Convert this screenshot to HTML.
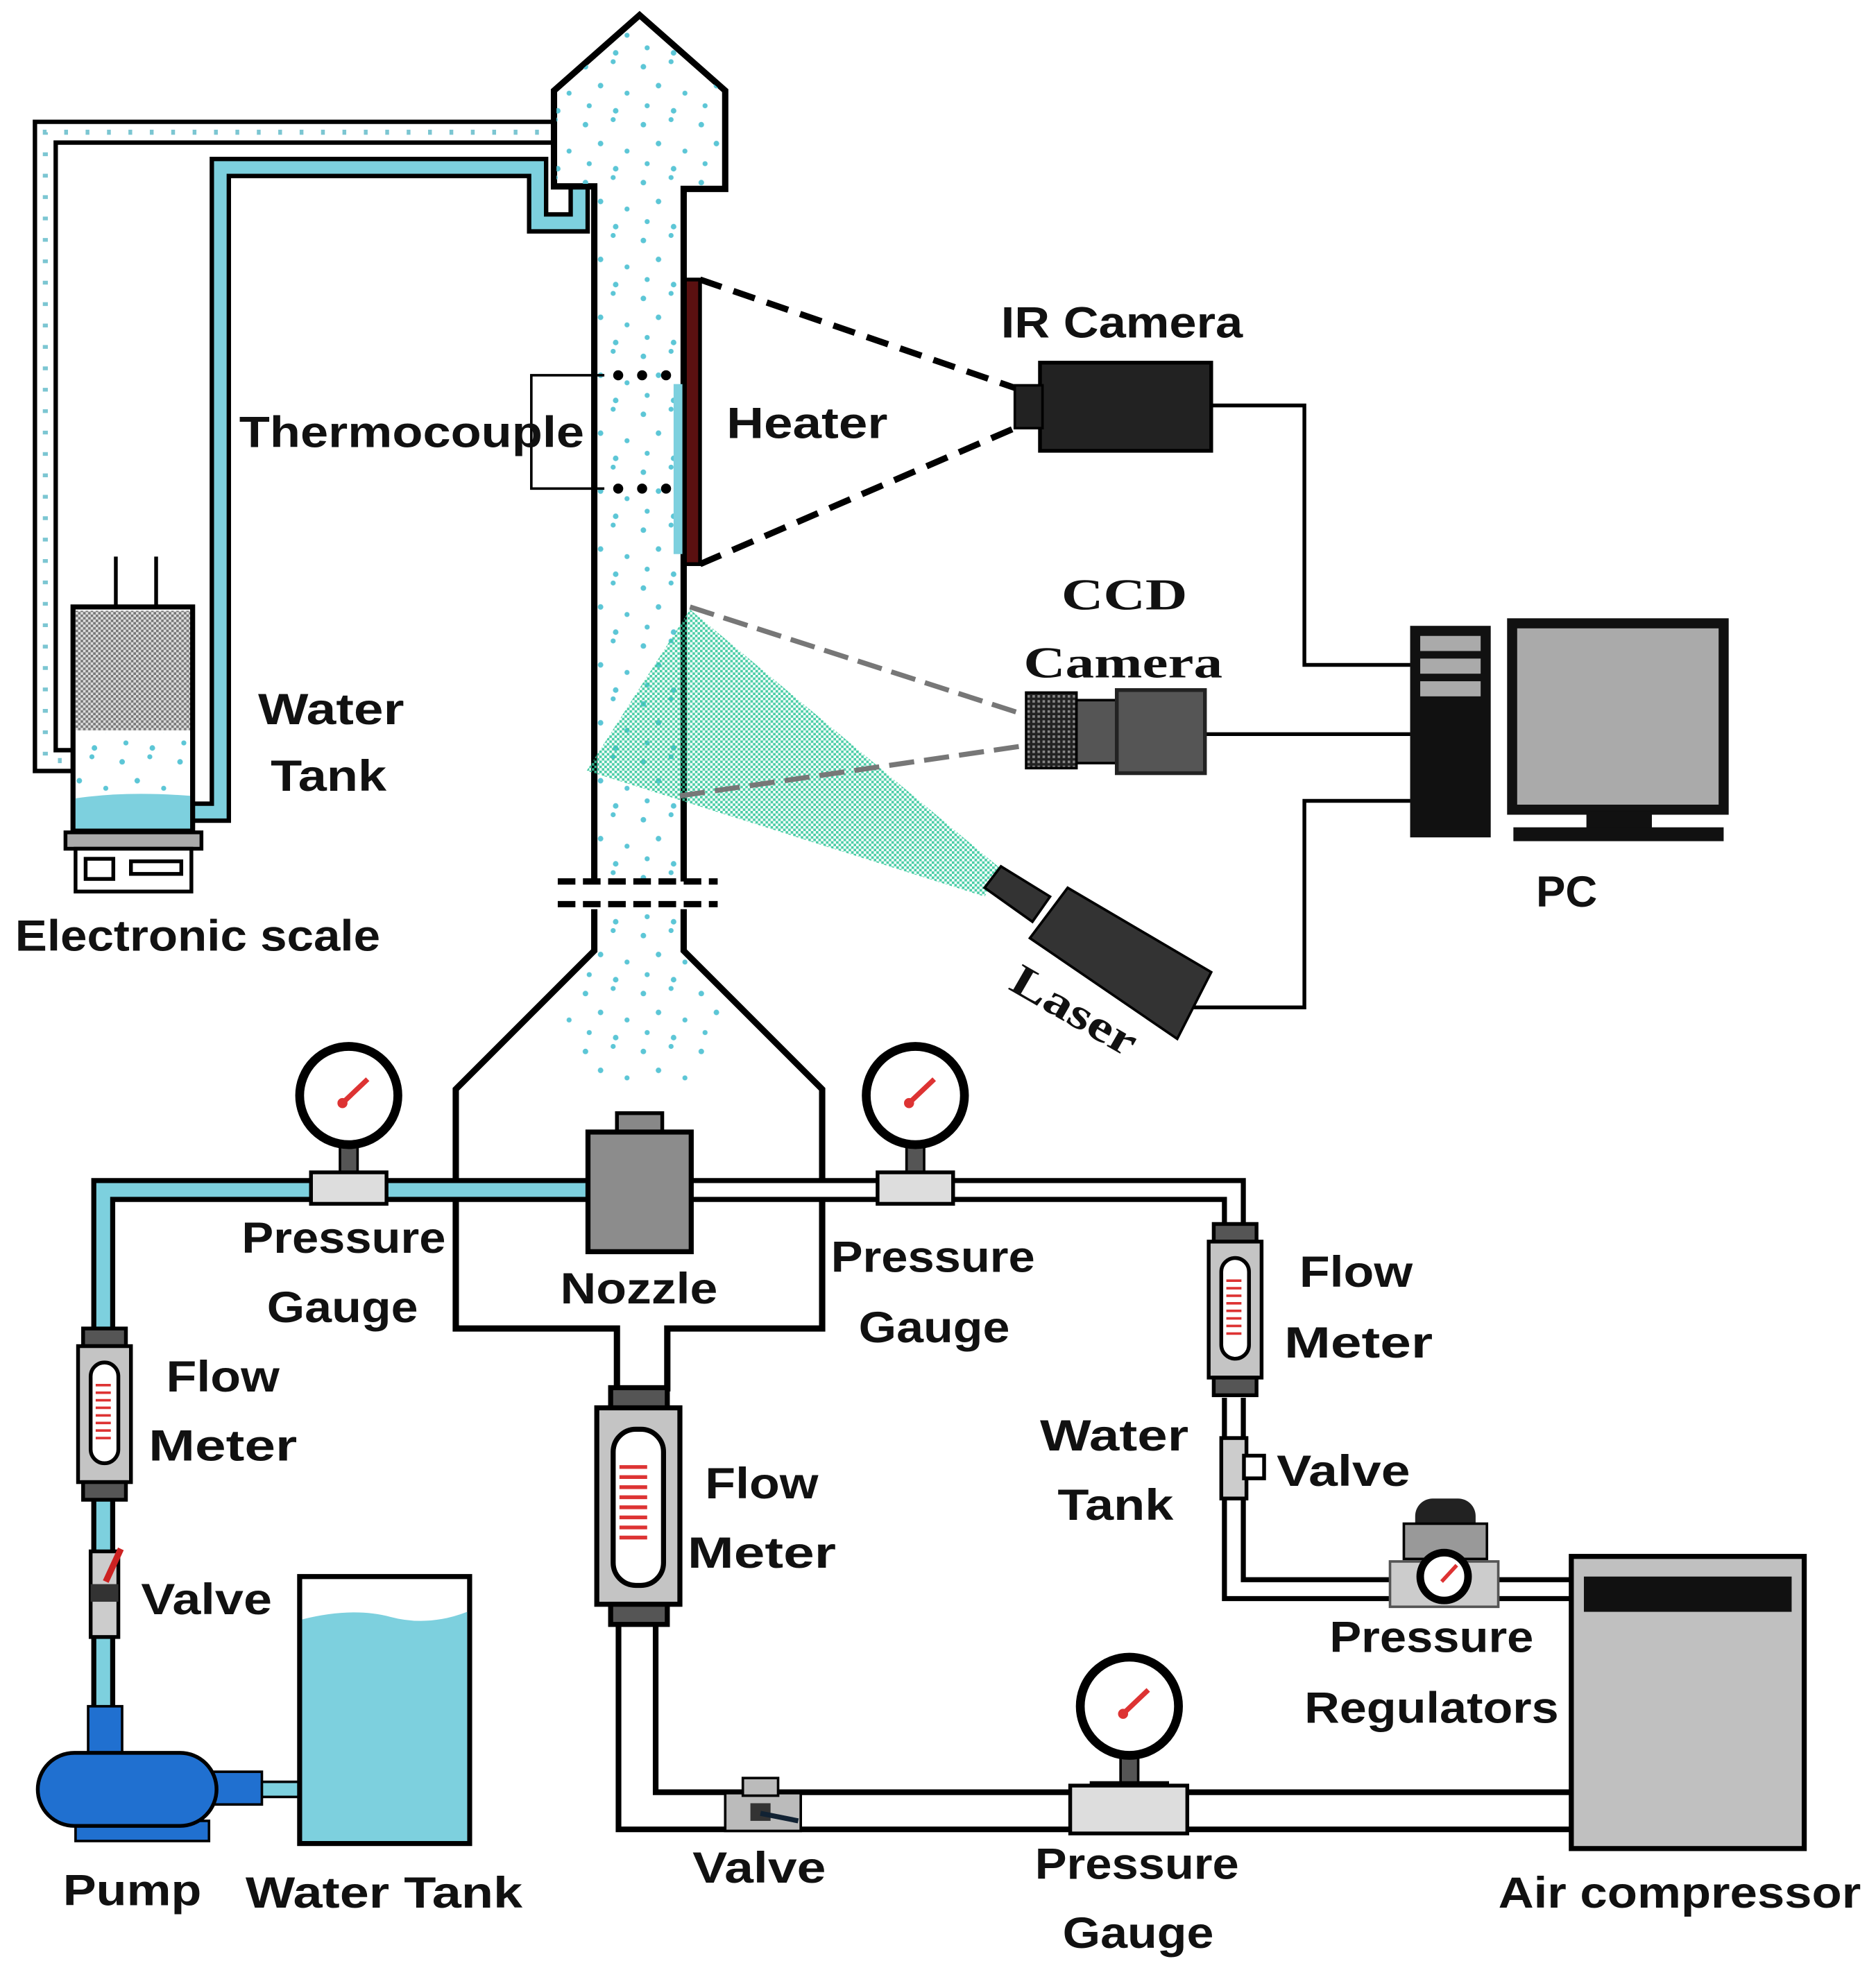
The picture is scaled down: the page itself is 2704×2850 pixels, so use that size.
<!DOCTYPE html>
<html><head><meta charset="utf-8"><style>
html,body{margin:0;padding:0;background:#fff}
svg{display:block}
text{font-family:"Liberation Sans",sans-serif;font-weight:bold;font-size:35px;fill:#111}
.serif{font-family:"Liberation Serif",serif}
</style></head><body>
<svg width="2704" height="2850" viewBox="0 0 1490 1570" preserveAspectRatio="none" xmlns="http://www.w3.org/2000/svg">
<defs>
<pattern id="dots" patternUnits="userSpaceOnUse" width="46" height="46">
<circle cx="5" cy="7" r="2.2" fill="#5cc6d6"/><circle cx="27" cy="3" r="2" fill="#5cc6d6"/>
<circle cx="17" cy="22" r="2.2" fill="#5cc6d6"/><circle cx="38" cy="28" r="2" fill="#5cc6d6"/>
<circle cx="8" cy="38" r="2" fill="#5cc6d6"/><circle cx="29" cy="42" r="2.2" fill="#5cc6d6"/>
</pattern>
<pattern id="green" patternUnits="userSpaceOnUse" width="4" height="4">
<rect width="2" height="2" fill="#35c79c"/><rect x="2" y="2" width="2" height="2" fill="#35c79c"/>
</pattern>
<pattern id="grey" patternUnits="userSpaceOnUse" width="4" height="4">
<rect width="4" height="4" fill="#ddd"/><rect width="2" height="2" fill="#777"/><rect x="2" y="2" width="2" height="2" fill="#777"/>
</pattern>
<pattern id="knurl" patternUnits="userSpaceOnUse" width="4" height="4">
<rect width="4" height="4" fill="#222"/><rect width="2" height="2" fill="#888"/>
</pattern>
</defs>

<!-- grey dotted pipe -->
<path d="M445,105 H36 V604 H62" fill="none" stroke="#000" stroke-width="20"/>
<path d="M445,105 H36 V604 H62" fill="none" stroke="#fff" stroke-width="13"/>
<path d="M445,105 H36 V604 H62" fill="none" stroke="#7cc6d2" stroke-width="4" stroke-dasharray="3,14"/>
<!-- blue pipe -->
<path d="M150,645 H175 V133 H427 V177 H460 V148" fill="none" stroke="#000" stroke-width="17"/>
<path d="M150,645 H175 V133 H427 V177 H460 V148" fill="none" stroke="#7dd0de" stroke-width="10"/>

<!-- column -->
<path d="M472,700 V148 H440 V72 L508,12 L576,72 V150 H543 V700" fill="#fff" stroke="#000" stroke-width="5"/>
<path d="M474,700 V146 H442 V73 L508,15 L574,73 V148 H541 V700 Z" fill="url(#dots)"/>
<path d="M472,722 V755 L362,865 V1055 H490 V1105 M530,1105 V1055 H653 V865 L543,755 V722" fill="none" stroke="#000" stroke-width="5"/>
<path d="M474,722 V755 L440,800 L460,860 L560,860 L580,800 L541,755 V722 Z" fill="url(#dots)"/>
<path d="M443,700 H570 M443,718 H570" stroke="#000" stroke-width="5" stroke-dasharray="14,6"/>
<!-- heater -->
<rect x="544" y="222" width="12" height="226" fill="#5a1010" stroke="#000" stroke-width="3"/>
<rect x="535" y="305" width="7" height="135" fill="#7dd0de"/>
<!-- thermocouple -->
<path d="M480,298 H422 V388 H480" fill="none" stroke="#000" stroke-width="2"/>
<g fill="#000"><circle cx="491" cy="298" r="4"/><circle cx="510" cy="298" r="4"/><circle cx="529" cy="298" r="4"/>
<circle cx="491" cy="388" r="4"/><circle cx="510" cy="388" r="4"/><circle cx="529" cy="388" r="4"/></g>
<text x="190" y="355" textLength="274" lengthAdjust="spacingAndGlyphs">Thermocouple</text>
<text x="577" y="348" textLength="128" lengthAdjust="spacingAndGlyphs">Heater</text>

<!-- IR camera -->
<path d="M556,222 L806,308 M556,448 L806,340" stroke="#000" stroke-width="5" stroke-dasharray="18,10"/>
<rect x="826" y="288" width="136" height="70" fill="#222" stroke="#000" stroke-width="3"/>
<rect x="806" y="306" width="22" height="34" fill="#222" stroke="#000" stroke-width="2"/>
<text x="795" y="268" textLength="192" lengthAdjust="spacingAndGlyphs">IR Camera</text>
<path d="M962,322 H1036 V528 H1120 M957,583 H1120 M945,800 H1036 V636 H1120" fill="none" stroke="#000" stroke-width="3"/>

<!-- laser sheet -->
<polygon points="466,612 548,484 795,690 782,712" fill="url(#green)" opacity="0.9"/>
<path d="M548,482 L815,568 M540,632 L815,592" stroke="#777" stroke-width="4" stroke-dasharray="20,8"/>
<!-- CCD camera -->
<rect x="815" y="550" width="40" height="60" fill="url(#knurl)" stroke="#000" stroke-width="2"/>
<rect x="855" y="556" width="32" height="50" fill="#555" stroke="#000" stroke-width="2"/>
<rect x="887" y="548" width="70" height="66" fill="#555" stroke="#222" stroke-width="3"/>
<text class="serif" x="843" y="484" textLength="100" lengthAdjust="spacingAndGlyphs">CCD</text>
<text class="serif" x="813" y="538" textLength="158" lengthAdjust="spacingAndGlyphs">Camera</text>
<!-- laser -->
<polygon points="782,705 795,688 834,712 820,732" fill="#333" stroke="#000" stroke-width="2"/>
<polygon points="818,745 848,705 962,772 935,825" fill="#333" stroke="#000" stroke-width="2"/>
<text class="serif" x="800" y="785" transform="rotate(30 800 785)" textLength="110" lengthAdjust="spacingAndGlyphs">Laser</text>

<!-- PC -->
<rect x="1120" y="497" width="64" height="168" fill="#111"/>
<rect x="1128" y="505" width="48" height="12" fill="#aaa"/><rect x="1128" y="523" width="48" height="12" fill="#aaa"/><rect x="1128" y="541" width="48" height="12" fill="#aaa"/>
<rect x="1201" y="495" width="168" height="148" fill="#aaa" stroke="#111" stroke-width="8"/>
<rect x="1260" y="644" width="52" height="14" fill="#111"/>
<rect x="1202" y="657" width="167" height="11" fill="#111"/>
<text x="1220" y="720">PC</text>

<!-- small water tank + scale -->
<path d="M92,442 V482 M124,442 V482" stroke="#000" stroke-width="3"/>
<rect x="58" y="482" width="95" height="178" fill="#fff" stroke="#000" stroke-width="4"/>
<rect x="60" y="485" width="91" height="95" fill="url(#grey)"/>
<rect x="60" y="582" width="91" height="50" fill="url(#dots)"/>
<path d="M60,634 Q100,628 151,632 V658 H60 Z" fill="#7dd0de"/>
<rect x="52" y="661" width="108" height="13" fill="#aaa" stroke="#000" stroke-width="3"/>
<rect x="60" y="674" width="92" height="34" fill="#fff" stroke="#000" stroke-width="3"/>
<rect x="68" y="682" width="22" height="16" fill="#fff" stroke="#000" stroke-width="3"/>
<rect x="104" y="684" width="40" height="10" fill="#fff" stroke="#000" stroke-width="3"/>
<text x="205" y="575" textLength="116" lengthAdjust="spacingAndGlyphs">Water</text>
<text x="215" y="628" textLength="92" lengthAdjust="spacingAndGlyphs">Tank</text>
<text x="12" y="755" textLength="290" lengthAdjust="spacingAndGlyphs">Electronic scale</text>

<!-- bottom pipes -->
<path d="M467,945 H82 V1362" fill="none" stroke="#000" stroke-width="19"/>
<path d="M467,945 H82 V1362" fill="none" stroke="#7dd0de" stroke-width="11"/>
<path d="M549,945 H980 V975" fill="none" stroke="#000" stroke-width="19"/>
<path d="M549,945 H980 V975" fill="none" stroke="#fff" stroke-width="11"/>
<path d="M980,1110 V1262 H1250" fill="none" stroke="#000" stroke-width="19"/>
<path d="M980,1110 V1262 H1250" fill="none" stroke="#fff" stroke-width="11"/>
<path d="M506,1288 V1438 H1250" fill="none" stroke="#000" stroke-width="34"/>
<path d="M506,1288 V1438 H1250" fill="none" stroke="#fff" stroke-width="25"/>

<!-- nozzle -->
<rect x="490" y="884" width="36" height="16" fill="#888" stroke="#000" stroke-width="3"/>
<rect x="467" y="899" width="82" height="95" fill="#8c8c8c" stroke="#000" stroke-width="4"/>

<!-- gauges -->
<g id="g1">
<rect x="270" y="910" width="14" height="22" fill="#555" stroke="#000" stroke-width="2"/>
<rect x="247" y="931" width="60" height="25" fill="#ddd" stroke="#000" stroke-width="3"/>
<circle cx="277" cy="870" r="39" fill="#fff" stroke="#000" stroke-width="7"/>
<line x1="272" y1="876" x2="292" y2="857" stroke="#d33" stroke-width="4"/><circle cx="272" cy="876" r="4" fill="#d33"/>
</g>
<use href="#g1" x="450" y="0"/>
<use href="#g1" x="620" y="485"/>
<rect x="850" y="1418" width="93" height="38" fill="#ddd" stroke="#000" stroke-width="3"/>

<!-- flow meters -->
<g id="fm">
<rect x="66" y="1055" width="34" height="14" fill="#555" stroke="#000" stroke-width="3"/>
<rect x="62" y="1069" width="42" height="108" fill="#c4c4c4" stroke="#000" stroke-width="3"/>
<rect x="72" y="1082" width="22" height="80" rx="11" fill="#fff" stroke="#000" stroke-width="3"/>
<g stroke="#d33" stroke-width="2"><line x1="76" y1="1100" x2="88" y2="1100"/><line x1="76" y1="1106" x2="88" y2="1106"/><line x1="76" y1="1112" x2="88" y2="1112"/><line x1="76" y1="1118" x2="88" y2="1118"/><line x1="76" y1="1124" x2="88" y2="1124"/><line x1="76" y1="1130" x2="88" y2="1130"/><line x1="76" y1="1136" x2="88" y2="1136"/><line x1="76" y1="1142" x2="88" y2="1142"/></g>
<rect x="66" y="1177" width="34" height="14" fill="#555" stroke="#000" stroke-width="3"/>
</g>
<use href="#fm" x="898" y="-83"/>
<g>
<rect x="485" y="1102" width="45" height="17" fill="#555" stroke="#000" stroke-width="4"/>
<rect x="474" y="1118" width="66" height="156" fill="#c4c4c4" stroke="#000" stroke-width="4"/>
<rect x="487" y="1135" width="40" height="124" rx="18" fill="#fff" stroke="#000" stroke-width="4"/>
<g stroke="#d33" stroke-width="3"><line x1="492" y1="1165" x2="514" y2="1165"/><line x1="492" y1="1173" x2="514" y2="1173"/><line x1="492" y1="1181" x2="514" y2="1181"/><line x1="492" y1="1189" x2="514" y2="1189"/><line x1="492" y1="1197" x2="514" y2="1197"/><line x1="492" y1="1205" x2="514" y2="1205"/><line x1="492" y1="1213" x2="514" y2="1213"/><line x1="492" y1="1221" x2="514" y2="1221"/></g>
<rect x="485" y="1274" width="45" height="16" fill="#555" stroke="#000" stroke-width="4"/>
</g>

<!-- valves -->
<rect x="72" y="1232" width="22" height="68" fill="#ccc" stroke="#000" stroke-width="3"/>
<rect x="72" y="1258" width="22" height="14" fill="#333"/>
<line x1="84" y1="1256" x2="96" y2="1230" stroke="#c22" stroke-width="5"/>
<rect x="970" y="1142" width="20" height="48" fill="#ccc" stroke="#000" stroke-width="3"/>
<rect x="988" y="1156" width="16" height="18" fill="#fff" stroke="#000" stroke-width="3"/>
<rect x="576" y="1424" width="60" height="30" fill="#bbb" stroke="#000" stroke-width="2"/>
<rect x="590" y="1412" width="28" height="14" fill="#bbb" stroke="#000" stroke-width="2"/>
<rect x="596" y="1432" width="16" height="14" fill="#333"/>
<line x1="604" y1="1440" x2="634" y2="1446" stroke="#123" stroke-width="4"/>

<!-- regulator -->
<rect x="1124" y="1190" width="48" height="40" rx="14" fill="#222"/>
<rect x="1115" y="1210" width="66" height="28" fill="#999" stroke="#000" stroke-width="2"/>
<rect x="1104" y="1240" width="86" height="36" fill="#ccc" stroke="#555" stroke-width="2"/>
<circle cx="1147" cy="1252" r="19" fill="#fff" stroke="#000" stroke-width="6"/>
<line x1="1145" y1="1256" x2="1157" y2="1243" stroke="#d33" stroke-width="3"/>

<!-- air compressor -->
<rect x="1248" y="1236" width="185" height="232" fill="#c0c0c0" stroke="#000" stroke-width="4"/>
<rect x="1258" y="1252" width="165" height="28" fill="#111"/>

<!-- pump and tank -->
<rect x="206" y="1415" width="36" height="12" fill="#7dd0de" stroke="#000" stroke-width="2"/>
<rect x="168" y="1407" width="40" height="26" fill="#2070d0" stroke="#000" stroke-width="2"/>
<rect x="70" y="1355" width="27" height="40" fill="#2070d0" stroke="#000" stroke-width="2"/>
<rect x="60" y="1446" width="106" height="16" fill="#2070d0" stroke="#000" stroke-width="2"/>
<rect x="30" y="1392" width="142" height="58" rx="29" fill="#2070d0" stroke="#000" stroke-width="3"/>
<rect x="238" y="1252" width="135" height="212" fill="#fff" stroke="#000" stroke-width="4"/>
<path d="M240,1286 Q280,1276 310,1284 T371,1280 V1462 H240 Z" fill="#7dd0de"/>

<!-- labels -->
<text x="192" y="995" textLength="162" lengthAdjust="spacingAndGlyphs">Pressure</text>
<text x="212" y="1050" textLength="120" lengthAdjust="spacingAndGlyphs">Gauge</text>
<text x="445" y="1035" textLength="125" lengthAdjust="spacingAndGlyphs">Nozzle</text>
<text x="660" y="1010" textLength="162" lengthAdjust="spacingAndGlyphs">Pressure</text>
<text x="682" y="1066" textLength="120" lengthAdjust="spacingAndGlyphs">Gauge</text>
<text x="1032" y="1022" textLength="90" lengthAdjust="spacingAndGlyphs">Flow</text>
<text x="1020" y="1078" textLength="118" lengthAdjust="spacingAndGlyphs">Meter</text>
<text x="132" y="1105" textLength="90" lengthAdjust="spacingAndGlyphs">Flow</text>
<text x="118" y="1160" textLength="118" lengthAdjust="spacingAndGlyphs">Meter</text>
<text x="560" y="1190" textLength="90" lengthAdjust="spacingAndGlyphs">Flow</text>
<text x="546" y="1245" textLength="118" lengthAdjust="spacingAndGlyphs">Meter</text>
<text x="826" y="1152" textLength="118" lengthAdjust="spacingAndGlyphs">Water</text>
<text x="840" y="1207" textLength="92" lengthAdjust="spacingAndGlyphs">Tank</text>
<text x="1014" y="1180" textLength="106" lengthAdjust="spacingAndGlyphs">Valve</text>
<text x="112" y="1282" textLength="104" lengthAdjust="spacingAndGlyphs">Valve</text>
<text x="1056" y="1312" textLength="162" lengthAdjust="spacingAndGlyphs">Pressure</text>
<text x="1036" y="1368" textLength="202" lengthAdjust="spacingAndGlyphs">Regulators</text>
<text x="50" y="1513" textLength="110" lengthAdjust="spacingAndGlyphs">Pump</text>
<text x="195" y="1515" textLength="220" lengthAdjust="spacingAndGlyphs">Water Tank</text>
<text x="550" y="1495" textLength="106" lengthAdjust="spacingAndGlyphs">Valve</text>
<text x="822" y="1492" textLength="162" lengthAdjust="spacingAndGlyphs">Pressure</text>
<text x="844" y="1547" textLength="120" lengthAdjust="spacingAndGlyphs">Gauge</text>
<text x="1190" y="1515" textLength="288" lengthAdjust="spacingAndGlyphs">Air compressor</text>
</svg>
</body></html>
